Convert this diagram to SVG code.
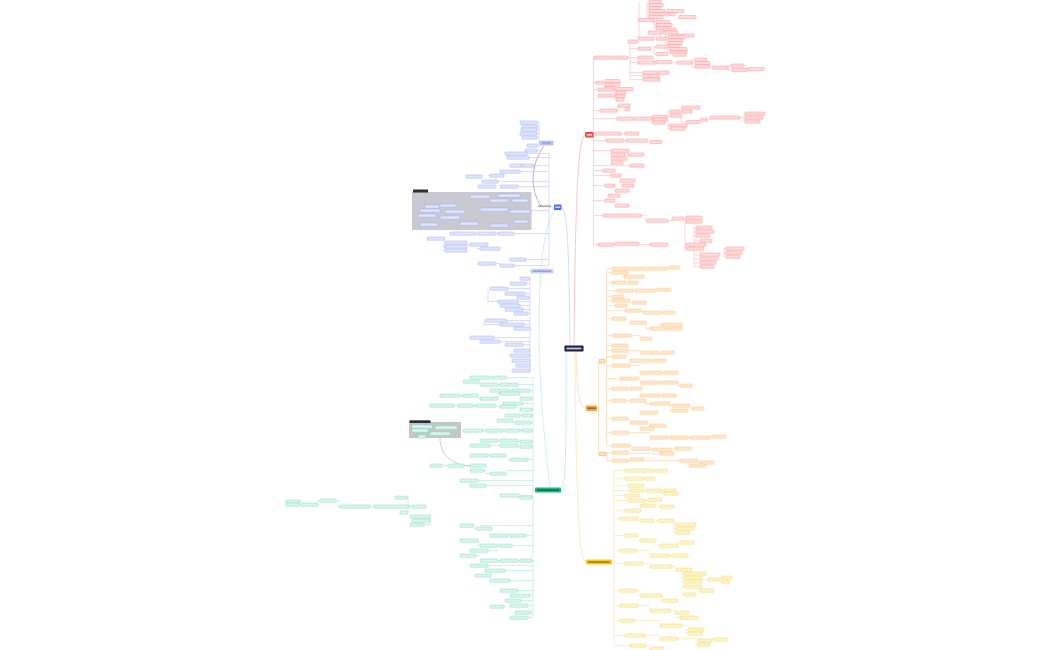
<svg xmlns="http://www.w3.org/2000/svg" width="1050" height="650" viewBox="0 0 1050 650">
<style>
rect.n{height:3.2px;rx:0.4px;ry:0.4px;stroke-width:0.45}
.r{fill:#ffdcdc;stroke:#ff8e8e}
.o{fill:#ffe8cd;stroke:#ffbb74}
.y{fill:#fff5c6;stroke:#eed468}
.g{fill:#d8f6e9;stroke:#7fdbb7}
.b{fill:#e0e6fd;stroke:#9aa9f2}
.l{fill:none;stroke-width:0.5}
.lr{stroke:#ffa6a6}.lo{stroke:#ffc990}.ly{stroke:#f3e197}.lg{stroke:#95e4c5}.lb{stroke:#adb9f3}
.main{stroke:none}
.stripe{fill:#ffffff;opacity:0.75}
</style>
<rect width="1050" height="650" fill="#ffffff"/>

<g id="connectors">
<path class="l" stroke="#ff8a8a" stroke-width="0.8" d="M574,345.5 C575,230 577,135 585,135"/>
<path class="l" stroke="#ffc48a" stroke-width="0.8" d="M576,351.5 C577,392 579,408 586,408"/>
<path class="l" stroke="#f5dc78" stroke-width="0.8" d="M575,351.5 C576,480 578,562 586,562"/>
<path class="l" stroke="#8fe3c0" stroke-width="0.8" d="M566,351.5 C566,420 567,490 561,490"/>
<path class="l" stroke="#a9b6f7" stroke-width="0.8" d="M570,345.5 C569,260 568,207 561,207"/>
<path class="l" stroke="#9fe6c8" stroke-width="0.7" d="M555,209 C545,225 539,260 539,330 S548,470 550,487.5"/>
<path class="l" stroke="#6b6b6b" stroke-width="0.7" d="M544,146 C530,165 530,190 541,206"/>
<path class="l" stroke="#9a9aa2" stroke-width="0.5" d="M440,438 C440,455 452,465 470,466"/>
<path class="l lr" d="M593.5,57.6 V245 M593.5,82.6h2.5M593.5,89.6h4.5M593.5,110.6h6.5M593.5,118.6h23.5M593.5,133.6h1.5M593.5,140.6h12.5M593.5,150.6h17.5M593.5,165.6h36.5M593.5,170.6h9.5M593.5,175.6h17.5M593.5,185.6h11.5M593.5,200.6h11.5M593.5,215.6h9.5M593.5,244.6h4.5"/>
<path class="l lr" d="M628,57.6h2 M630,41.6V79.6 M630,41.6h-2 M630,48.6h8 M630,57.6h8 M630,62.6h8 M630,72.6h13 M630,75.6h13 M630,79.6h13 M637,41.6h2 M639,2V39 M639,19.6h-1 M639,38.6h-1 M647,2V17 M647,2h2 M647,5h2 M647,8h2 M647,11h2 M647,14h2 M647,17h2 M654,21V28 M654,22h2M654,25h2M654,28h2 M661,29V36 M661,30h2 M661,33h2 M666,35V46 M666,37h2 M666,40h2 M666,43h2 M666,46h2 M654,46V54 M654,47h2 M654,54h2 M668,49V52 M668,49h2 M668,52h2 M655,62h1 M673,62h4 M692,59V67 M692,60h3 M692,63h3 M692,67h3 M728,65V70 M728,66h3 M728,70h4 M744,69h4"/>
<path class="l lr" d="M603,82.6h2 M604,81V88 M614,89.6h2 M615,89V99 M615,92.6h1 M615,95.6h1 M615,98.6h1 M617,110.6h1 M618,106V111 M634,118.6h1 M652,116V123 M652,116.6h1 M652,119.6h1 M652,122.6h1 M668,111V129 M668,111.6h2M668,115.6h2M668,125.6h2M668,128.6h2 M681,108V122 M681,108h1M681,112h1M681,122h5 M700,119.6h10 M744,113V122 M740,117.6h4 M621,133.6h4 M624,140.6h2 M641,215.6h5 M668,220.6h4 M685,218V249 M685,218h1M685,222h1M685,244h1M685,248h1 M694,227V267 M694,228h2M694,232h2M694,236h2M694,241h6M694,255h6M694,259h6M694,263h6M694,267h6 M724,248V257 M724,249h2M724,253h2M724,257h2 M614,244.6h1 M639,244.6h11"/>
<path class="l lo" d="M597,408h1.5 M598.5,361V454 M598.5,361h0.5 M598.5,454h0.5 M605,361h1.5 M606.5,268.6V445 M606.5,268.6h5.5M606.5,272.6h5.5M606.5,282.6h5.5M606.5,290.6h10.5M606.5,296.6h5.5M606.5,300.6h5.5M606.5,305.6h8.5M606.5,310.6h18.5M606.5,318.6h5.5M606.5,335.6h5.5M606.5,345.6h5.5M606.5,350.6h5.5M606.5,356.6h5.5M606.5,365.6h5.5M606.5,378.6h13.5M606.5,388.6h5.5M606.5,400.6h5.5M606.5,418.6h5.5M606.5,432.6h5.5M606.5,445.6h5.5 M606,454h1 M607,452V461 M607,452.6h5M607,460.6h5 M622,276.6h2 M640,268.6h1 M633,290.6h2 M655,290h2 M641,310.6h2 M661,312.6h2 M646,322.6V329 M646,322.6h-1 M646,328.6h4 M660,322V329 M660,324.6h2 M660,328.6h8 M632,335.6h8 M628,350.6h12 M658,352.6h2 M650,360.6h2 M630,365.6h10 M662,372.6h2 M638,378.6h2 M658,382.6h2 M678,382.6V386 M678,385.6h2 M628,388.6h2 M660,395.6h2 M626,400.6h4 M646,402V405 M646,403.6h4 M670,405V411 M670,405.6h2M670,410.6h2 M690,408.6h2 M628,418.6h2 M648,425.6h2 M628,432.6h22 M668,437.6h2 M688,437.6h2 M710,436.6h2 M630,445.6h2 M650,449.6h2 M673,448.6h2 M628,453.6h32 M628,460.6h2 M646,460.6h34 M698,462.6h2 M688,462.6V466 M688,465.6h2"/>
<path class="l ly" d="M612,562h2 M614,470.6V645 M614,470.6h11M614,478.6h11M614,485.6h14M614,490.6h16M614,495.6h11M614,500.6h14M614,510.6h11M614,518.6h6M614,535.6h11M614,550.6h6M614,563.6h11M614,590.6h6M614,605.6h6M614,620.6h6M614,635.6h11M614,645.6h16 M655,470.6h2 M643,478.6h2 M644,490.6h2 M662,490V494 M662,490.6h2 M662,493.6h2 M646,500.6h2 M638,505.6h2 M658,506.6h2 M638,520.6h2 M656,520.6h2 M674,520.6V533 M674,524.6h2M674,528.6h2M674,532.6h2 M638,540.6h2 M658,545.6h2 M678,542.6h2 M636,550.6h14 M670,555.6h2 M643,563.6h7 M672,566.6h4 M682,569V595 M682,573.6h2M682,577.6h2M682,581.6h2M682,586.6h2M682,594.6h2 M702,579.6h6 M720,577.6V582 M720,577.6h2 M720,581.6h2 M698,590.6h2 M636,590.6h4 M660,600.6h2 M638,605.6h12 M670,610.6h5 M676,612V618 M676,617.6h4 M634,620.6h26 M682,625.6h6 M686,629V634 M686,629.6h2 M686,633.6h2 M645,635.6h15 M678,638.6h20 M712,639.6h2 M696,640V645 M696,644.6h2 M646,646h4"/>
<path class="l lg" d="M535,490h-2 M533,377.6V617 M533,377.6h-27M533,384.6h-15M533,390.6h-3M533,398.6h-1M533,403.6h-10M533,409.6h-1M533,415.6h-1M533,422.6h-2M533,430.6h-1M533,441.6h-1M533,446.6h-1M533,459.6h-5M533,470.6h-27M533,480.6h-55M533,485.6h-47M533,495.6h-13M533,497.6h-1M533,525.6h-53M533,535.6h-7M533,545.6h-33M533,560.6h-1M533,565.6h-45M533,570.6h-28M533,580.6h-23M533,590.6h-15M533,595.6h-3M533,600.6h-12M533,605.6h-5M533,612.6h-2M533,617.6h-5 M490,377.6h2 M479,381.6h1 M478,381V385 M498,384.6h2 M510,390.6h2 M460,395.6h2 M478,398.6h2 M498,393V399 M498,393.6h2 M454,405.6h4 M474,405.6h2 M496,406.6h4 M520,415.6h2 M513,422.6h2 M483,430.6h3 M503,430.6h2 M520,430.6h2 M498,440.6h2 M518,441.6h2 M490,445.6h10 M518,446.6h2 M488,455.6h2 M508,459.6h2 M442,465.6h6 M464,465.6h6 M486,470V474 M486,470.6h-2 M486,473.6h4 M300,501.6h2 M300,504.6h2 M318,500V505 M318,500.6h2 M336,500.6h4 M338,501V507 M338,506.6h2 M370,506.6h4 M410,506.6h2 M407,497.6h1 M408,497V512 M408,512.6h-8 M430,513V525 M430,524.6h-6 M474,528.6h2 M508,535.6h2 M478,540.6V546 M478,545.6h2 M498,545.6h2 M488,550.6h10 M476,555.6h4 M498,560.6h2 M518,560.6h2 M488,566h2 M508,590.6h2 M504,606.6h1"/>
<path class="l lb" d="M554,207h-5 M549,153V265 M549,153.6h-22M549,157.6h-20M549,165.6h-15M549,171.6h-29M549,181.6h-51M549,186.6h-31M549,210.6h-18M549,233.6h-35M549,259.6h-23M549,265.6h-35M549,271h4 M540,143h-1 M539,122.6V151 M539,122.6h-2M539,126.6h-2M539,129.6h-2M539,133.6h-2M539,137.6h-2M539,145.6h-2M539,150.6h-2 M531,271h-1 M530,278.6V371 M530,283.6h-4M530,288.6h-22M530,293.6h-5M530,297.6h-1M530,301.6h-12M530,305.6h-10M530,309.6h-7M530,313.6h-2M530,320.6h-23M530,324.6h-6M530,337.6h-36M530,341.6h-30M530,344.6h-7 M488,175.6h2 M496,178V182 M496,181.6h2 M444,242.6V251 M444,242.6h1M444,246.6h1M444,250.6h1 M476,233.6h2 M496,233.6h2 M467,244.6h3 M477,248.6h3 M496,263.6h4 M508,259.6h2 M488,289.6V302 M488,301.6h10 M484,321V326 M484,324.6h16"/>
</g>

<g id="node-center">
<rect class="main" x="564.5" y="345.5" width="19" height="6" rx="0.8" fill="#1c1f4a"/>
<rect class="stripe" x="566.5" y="347.6" width="15" height="1.8"/>
</g>
<g id="node-red">
<rect class="main" x="585" y="132" width="8.5" height="5.5" rx="0.8" fill="#ff4545"/>
<rect class="stripe" x="586.5" y="134" width="5.5" height="1.6"/>
</g>
<g id="node-orange">
<rect class="main" x="586" y="405.5" width="11" height="5.5" rx="0.8" fill="#f7a04b"/>
<rect x="587.5" y="407.4" width="8" height="1.6" fill="#5a3a1a" opacity="0.55"/>
</g>
<g id="node-orange-a"><rect x="599" y="359.5" width="6" height="3.4" rx="0.5" fill="#fde3c5" stroke="#f7a04b" stroke-width="0.5"/></g>
<g id="node-orange-b"><rect x="599" y="452.3" width="7" height="3.4" rx="0.5" fill="#fde3c5" stroke="#f7a04b" stroke-width="0.5"/></g>
<g id="node-yellow">
<rect class="main" x="586" y="559.5" width="26" height="5" rx="0.8" fill="#f6c915"/>
<rect x="588" y="561.3" width="22" height="1.5" fill="#4a3a00" opacity="0.55"/>
</g>
<g id="node-green">
<rect class="main" x="535" y="487.5" width="26" height="5" rx="0.8" fill="#17b883"/>
<rect x="537" y="489.3" width="22" height="1.5" fill="#06331f" opacity="0.6"/>
</g>
<g id="node-blue">
<rect class="main" x="554" y="204.5" width="7.5" height="5.5" rx="0.8" fill="#4b6ef5"/>
<rect class="stripe" x="555.3" y="206.5" width="5" height="1.5"/>
</g>
<g id="node-blue-a"><rect x="540" y="141.2" width="13" height="3.6" rx="0.5" fill="#dfe5ff" stroke="#4b6ef5" stroke-width="0.5"/><rect x="541.5" y="142.4" width="10" height="1.2" fill="#3a4aa0" opacity="0.6"/></g>
<g id="node-blue-b"><rect x="531" y="269.3" width="22" height="3.6" rx="0.5" fill="#dfe5ff" stroke="#8fa2f5" stroke-width="0.5"/><rect x="532.5" y="270.5" width="19" height="1.2" fill="#3a4aa0" opacity="0.6"/></g>
<g id="label-relation"><rect x="538" y="205.3" width="13" height="1.8" fill="#9a9aa2" opacity="0.8"/></g>

<g id="frame-blue">
<rect x="412" y="192" width="119.5" height="38" fill="#c9c9d1"/>
<rect x="413" y="189.5" width="15" height="3" fill="#2b2b3a"/>
</g>
<g id="frame-green">
<rect x="409" y="422" width="52" height="16" fill="#c4c6cc"/>
<rect x="409.5" y="420.3" width="21" height="2.7" fill="#2b2b3a"/>
</g>

<g id="nodes-red">
<rect class="n r" x="649" y="0.5" width="12"/><rect class="n r" x="649" y="3.5" width="14"/><rect class="n r" x="649" y="6.5" width="11"/>
<rect class="n r" x="649" y="9.5" width="16"/><rect class="n r" x="667" y="9.5" width="17"/><rect class="n r" x="649" y="12.5" width="18"/><rect class="n r" x="668" y="12.5" width="7"/>
<rect class="n r" x="649" y="15.5" width="14"/><rect class="n r" x="679" y="15.5" width="17"/><rect class="n r" x="638" y="18.5" width="16"/>
<rect class="n r" x="656" y="20.5" width="14"/><rect class="n r" x="656" y="23.5" width="16"/><rect class="n r" x="656" y="26.5" width="12"/>
<rect class="n r" x="648" y="31" width="13"/><rect class="n r" x="663" y="28" width="13"/><rect class="n r" x="663" y="31" width="15"/><rect class="n r" x="672" y="34" width="22"/>
<rect class="n r" x="638" y="37" width="16"/><rect class="n r" x="656" y="37" width="10"/><rect class="n r" x="668" y="35.5" width="17"/><rect class="n r" x="668" y="38.5" width="15"/><rect class="n r" x="668" y="41.5" width="14"/><rect class="n r" x="668" y="44.5" width="12"/>
<rect class="n r" x="628" y="40" width="9"/><rect class="n r" x="638" y="47" width="13"/><rect class="n r" x="656" y="45" width="12"/><rect class="n r" x="670" y="47.5" width="17"/><rect class="n r" x="670" y="50.5" width="17"/>
<rect class="n r" x="656" y="52.5" width="12"/><rect class="n r" x="673" y="53" width="13"/><rect class="n r" x="638" y="56" width="15"/>
<rect class="n r" x="594" y="56" width="16"/><rect class="n r" x="611" y="56" width="17"/>
<rect class="n r" x="638" y="61" width="17"/><rect class="n r" x="656" y="60.5" width="16"/><rect class="n r" x="677" y="61" width="15"/><rect class="n r" x="695" y="58" width="12"/><rect class="n r" x="695" y="61.5" width="15"/><rect class="n r" x="695" y="65" width="15"/><rect class="n r" x="712" y="66" width="5"/><rect class="n r" x="718" y="66" width="10"/><rect class="n r" x="731" y="64" width="13"/><rect class="n r" x="732" y="68.5" width="15"/><rect class="n r" x="748" y="67.5" width="16"/>
<rect class="n r" x="643" y="71" width="14"/><rect class="n r" x="658" y="71" width="11"/><rect class="n r" x="643" y="74.5" width="16"/><rect class="n r" x="643" y="78" width="17"/>
<rect class="n r" x="596" y="81" width="7"/><rect class="n r" x="605" y="79.5" width="15"/><rect class="n r" x="605" y="83" width="15"/><rect class="n r" x="605" y="86.5" width="10"/>
<rect class="n r" x="598" y="88" width="16"/><rect class="n r" x="616" y="87.5" width="17"/><rect class="n r" x="598" y="94" width="17"/><rect class="n r" x="616" y="91" width="10"/><rect class="n r" x="616" y="94.5" width="9"/><rect class="n r" x="616" y="98" width="8"/>
<rect class="n r" x="600" y="109" width="17"/><rect class="n r" x="618" y="104" width="12"/><rect class="n r" x="625" y="107.5" width="5"/>
<rect class="n r" x="617" y="117" width="17"/><rect class="n r" x="635" y="117" width="17"/><rect class="n r" x="653" y="115" width="14"/><rect class="n r" x="653" y="118" width="14"/><rect class="n r" x="653" y="121" width="12"/>
<rect class="n r" x="670" y="110" width="10"/><rect class="n r" x="670" y="114" width="12"/><rect class="n r" x="682" y="106" width="18"/><rect class="n r" x="682" y="110" width="10"/><rect class="n r" x="670" y="124" width="17"/><rect class="n r" x="670" y="127" width="15"/><rect class="n r" x="686" y="120.5" width="14"/><rect class="n r" x="701" y="118" width="6"/><rect class="n r" x="710" y="116" width="30"/><rect class="n r" x="745" y="112" width="20"/><rect class="n r" x="745" y="116" width="18"/><rect class="n r" x="745" y="120" width="15"/>
<rect class="n r" x="595" y="132" width="26"/><rect class="n r" x="625" y="132" width="14"/>
<rect class="n r" x="606" y="139" width="18"/><rect class="n r" x="626" y="139" width="22"/><rect class="n r" x="650" y="140.5" width="12"/>
<rect class="n r" x="611" y="149" width="18"/><rect class="n r" x="611" y="153" width="14"/><rect class="n r" x="611" y="157" width="16"/><rect class="n r" x="611" y="161" width="12"/><rect class="n r" x="630" y="164" width="14"/><rect class="n r" x="628" y="153" width="16"/>
<rect class="n r" x="603" y="169" width="12"/><rect class="n r" x="611" y="174" width="10"/><rect class="n r" x="620" y="179" width="15"/><rect class="n r" x="605" y="184" width="10"/><rect class="n r" x="615" y="189" width="14"/><rect class="n r" x="608" y="194" width="12"/><rect class="n r" x="605" y="199" width="10"/><rect class="n r" x="615" y="204" width="14"/><rect class="n r" x="622" y="184" width="12"/>
<rect class="n r" x="603" y="214" width="38"/><rect class="n r" x="646" y="219" width="22"/><rect class="n r" x="672" y="217" width="12"/>
<rect class="n r" x="686" y="216" width="16"/><rect class="n r" x="686" y="220" width="16"/><rect class="n r" x="696" y="226" width="16"/><rect class="n r" x="696" y="230" width="18"/><rect class="n r" x="696" y="234" width="14"/><rect class="n r" x="700" y="239" width="12"/><rect class="n r" x="686" y="243" width="20"/><rect class="n r" x="686" y="247" width="18"/>
<rect class="n r" x="700" y="253" width="20"/><rect class="n r" x="700" y="257" width="18"/><rect class="n r" x="700" y="261" width="16"/><rect class="n r" x="700" y="265" width="14"/><rect class="n r" x="726" y="247" width="18"/><rect class="n r" x="726" y="251" width="16"/><rect class="n r" x="726" y="255" width="14"/>
<rect class="n r" x="598" y="243" width="16"/><rect class="n r" x="615" y="242" width="24"/><rect class="n r" x="650" y="243" width="18"/>
</g>

<g id="nodes-orange">
<rect class="n o" x="612" y="267" width="28"/><rect class="n o" x="641" y="267" width="26"/><rect class="n o" x="668" y="266" width="12"/>
<rect class="n o" x="612" y="271" width="16"/><rect class="n o" x="624" y="275" width="20"/><rect class="n o" x="612" y="281" width="14"/><rect class="n o" x="628" y="281" width="10"/>
<rect class="n o" x="617" y="289" width="16"/><rect class="n o" x="635" y="289" width="20"/><rect class="n o" x="657" y="288" width="14"/><rect class="n o" x="612" y="295" width="12"/>
<rect class="n o" x="612" y="299" width="18"/><rect class="n o" x="632" y="301" width="14"/><rect class="n o" x="615" y="304" width="12"/>
<rect class="n o" x="625" y="309" width="16"/><rect class="n o" x="643" y="311" width="18"/><rect class="n o" x="663" y="311" width="12"/><rect class="n o" x="612" y="317" width="14"/>
<rect class="n o" x="630" y="321" width="16"/><rect class="n o" x="662" y="323" width="20"/><rect class="n o" x="650" y="327" width="16"/><rect class="n o" x="668" y="327" width="14"/>
<rect class="n o" x="612" y="334" width="20"/><rect class="n o" x="640" y="337" width="12"/><rect class="n o" x="612" y="344" width="16"/>
<rect class="n o" x="612" y="349" width="16"/><rect class="n o" x="640" y="351" width="18"/><rect class="n o" x="660" y="351" width="14"/><rect class="n o" x="612" y="355" width="14"/>
<rect class="n o" x="630" y="359" width="20"/><rect class="n o" x="652" y="359" width="14"/><rect class="n o" x="612" y="364" width="18"/>
<rect class="n o" x="640" y="371" width="22"/><rect class="n o" x="664" y="371" width="14"/><rect class="n o" x="620" y="377" width="18"/><rect class="n o" x="640" y="381" width="18"/><rect class="n o" x="660" y="381" width="18"/><rect class="n o" x="680" y="384" width="12"/>
<rect class="n o" x="612" y="387" width="16"/><rect class="n o" x="630" y="387" width="12"/><rect class="n o" x="640" y="394" width="20"/><rect class="n o" x="662" y="394" width="14"/>
<rect class="n o" x="612" y="399" width="14"/><rect class="n o" x="630" y="399" width="16"/><rect class="n o" x="650" y="402" width="20"/><rect class="n o" x="672" y="404" width="18"/><rect class="n o" x="692" y="407" width="12"/><rect class="n o" x="672" y="409" width="16"/>
<rect class="n o" x="640" y="411" width="18"/><rect class="n o" x="612" y="417" width="16"/><rect class="n o" x="630" y="421" width="18"/><rect class="n o" x="650" y="424" width="16"/>
<rect class="n o" x="640" y="427" width="14"/><rect class="n o" x="612" y="431" width="16"/>
<rect class="n o" x="650" y="436" width="18"/><rect class="n o" x="670" y="436" width="18"/><rect class="n o" x="690" y="436" width="20"/><rect class="n o" x="712" y="435" width="14"/>
<rect class="n o" x="612" y="444" width="18"/><rect class="n o" x="632" y="447" width="18"/><rect class="n o" x="652" y="448" width="20"/><rect class="n o" x="675" y="447" width="16"/>
<rect class="n o" x="612" y="451" width="16"/><rect class="n o" x="660" y="452" width="14"/>
<rect class="n o" x="612" y="459" width="16"/><rect class="n o" x="630" y="458" width="14"/><rect class="n o" x="680" y="459" width="18"/><rect class="n o" x="700" y="461" width="14"/><rect class="n o" x="690" y="464" width="16"/>
</g>

<g id="nodes-yellow">
<rect class="n y" x="625" y="469" width="30"/><rect class="n y" x="657" y="469" width="10"/><rect class="n y" x="625" y="477" width="18"/><rect class="n y" x="645" y="477" width="10"/>
<rect class="n y" x="628" y="484" width="16"/><rect class="n y" x="630" y="489" width="14"/><rect class="n y" x="646" y="489" width="16"/><rect class="n y" x="664" y="489" width="12"/><rect class="n y" x="664" y="492" width="14"/>
<rect class="n y" x="625" y="494" width="14"/><rect class="n y" x="628" y="499" width="18"/><rect class="n y" x="648" y="498" width="14"/><rect class="n y" x="640" y="504" width="16"/><rect class="n y" x="660" y="505" width="14"/>
<rect class="n y" x="625" y="509" width="16"/><rect class="n y" x="620" y="517" width="18"/><rect class="n y" x="640" y="519" width="14"/><rect class="n y" x="658" y="519" width="16"/>
<rect class="n y" x="676" y="523" width="20"/><rect class="n y" x="676" y="527" width="18"/><rect class="n y" x="676" y="531" width="14"/>
<rect class="n y" x="625" y="534" width="13"/><rect class="n y" x="640" y="539" width="16"/><rect class="n y" x="660" y="544" width="18"/><rect class="n y" x="680" y="541" width="14"/>
<rect class="n y" x="620" y="549" width="16"/><rect class="n y" x="650" y="554" width="20"/><rect class="n y" x="672" y="554" width="16"/><rect class="n y" x="625" y="562" width="18"/>
<rect class="n y" x="650" y="565" width="22"/><rect class="n y" x="676" y="568" width="16"/><rect class="n y" x="684" y="572" width="22"/><rect class="n y" x="684" y="576" width="18"/><rect class="n y" x="684" y="580" width="18"/>
<rect class="n y" x="708" y="578" width="12"/><rect class="n y" x="722" y="576" width="10"/><rect class="n y" x="722" y="580" width="8"/>
<rect class="n y" x="684" y="585" width="18"/><rect class="n y" x="700" y="589" width="14"/><rect class="n y" x="684" y="593" width="12"/>
<rect class="n y" x="620" y="589" width="16"/><rect class="n y" x="640" y="594" width="22"/><rect class="n y" x="662" y="599" width="16"/><rect class="n y" x="620" y="604" width="18"/>
<rect class="n y" x="650" y="609" width="20"/><rect class="n y" x="675" y="611" width="14"/><rect class="n y" x="680" y="616" width="18"/>
<rect class="n y" x="620" y="619" width="14"/><rect class="n y" x="660" y="624" width="22"/><rect class="n y" x="688" y="628" width="16"/><rect class="n y" x="688" y="632" width="14"/>
<rect class="n y" x="625" y="634" width="20"/><rect class="n y" x="660" y="637" width="18"/><rect class="n y" x="698" y="639" width="14"/><rect class="n y" x="714" y="638" width="14"/><rect class="n y" x="698" y="643" width="12"/>
<rect class="n y" x="630" y="644" width="16"/><rect class="n y" x="650" y="647" width="14"/>
</g>

<g id="nodes-green">
<rect class="n g" x="470" y="376" width="20"/><rect class="n g" x="492" y="376" width="14"/><rect class="n g" x="463" y="380" width="16"/><rect class="n g" x="480" y="383" width="18"/><rect class="n g" x="500" y="383" width="18"/>
<rect class="n g" x="490" y="389" width="20"/><rect class="n g" x="512" y="389" width="18"/>
<rect class="n g" x="440" y="394" width="20"/><rect class="n g" x="462" y="394" width="16"/><rect class="n g" x="480" y="397" width="18"/><rect class="n g" x="500" y="392" width="20"/><rect class="n g" x="520" y="397" width="12"/>
<rect class="n g" x="503" y="402" width="20"/><rect class="n g" x="430" y="404" width="24"/><rect class="n g" x="458" y="404" width="16"/><rect class="n g" x="476" y="404" width="20"/><rect class="n g" x="500" y="405" width="16"/><rect class="n g" x="520" y="408" width="12"/>
<rect class="n g" x="505" y="414" width="15"/><rect class="n g" x="522" y="414" width="10"/><rect class="n g" x="497" y="419" width="16"/><rect class="n g" x="515" y="421" width="16"/>
<rect class="n g" x="463" y="429" width="20"/><rect class="n g" x="486" y="429" width="17"/><rect class="n g" x="505" y="429" width="15"/><rect class="n g" x="522" y="429" width="10"/>
<rect class="n g" x="480" y="439" width="18"/><rect class="n g" x="500" y="439" width="18"/><rect class="n g" x="520" y="440" width="12"/><rect class="n g" x="470" y="444" width="20"/><rect class="n g" x="500" y="444" width="18"/><rect class="n g" x="520" y="445" width="12"/>
<rect class="n g" x="470" y="454" width="18"/><rect class="n g" x="490" y="454" width="16"/><rect class="n g" x="510" y="458" width="18"/>
<rect class="n g" x="430" y="464" width="12"/><rect class="n g" x="448" y="464" width="16"/><rect class="n g" x="470" y="464" width="16"/><rect class="n g" x="470" y="469" width="14"/><rect class="n g" x="490" y="472" width="16"/>
<rect class="n g" x="460" y="479" width="18"/><rect class="n g" x="470" y="484" width="16"/><rect class="n g" x="500" y="494" width="20"/><rect class="n g" x="520" y="496" width="12"/>
<rect class="n g" x="286" y="500" width="14"/><rect class="n g" x="286" y="503" width="14"/><rect class="n g" x="320" y="499" width="16"/><rect class="n g" x="302" y="503" width="16"/><rect class="n g" x="340" y="505" width="30"/><rect class="n g" x="374" y="505" width="36"/><rect class="n g" x="395" y="496" width="12"/><rect class="n g" x="412" y="505" width="14"/>
<rect class="n g" x="400" y="511" width="8"/><rect class="n g" x="410" y="515" width="20"/><rect class="n g" x="412" y="519" width="18"/><rect class="n g" x="410" y="523" width="14"/>
<rect class="n g" x="460" y="524" width="14"/><rect class="n g" x="476" y="527" width="16"/><rect class="n g" x="490" y="534" width="18"/><rect class="n g" x="510" y="534" width="16"/>
<rect class="n g" x="460" y="539" width="18"/><rect class="n g" x="480" y="544" width="18"/><rect class="n g" x="500" y="544" width="12"/><rect class="n g" x="470" y="549" width="18"/><rect class="n g" x="460" y="554" width="16"/>
<rect class="n g" x="480" y="559" width="18"/><rect class="n g" x="500" y="559" width="18"/><rect class="n g" x="520" y="559" width="12"/><rect class="n g" x="470" y="564" width="18"/><rect class="n g" x="485" y="569" width="20"/>
<rect class="n g" x="475" y="574" width="16"/><rect class="n g" x="490" y="579" width="20"/><rect class="n g" x="500" y="589" width="18"/><rect class="n g" x="510" y="594" width="20"/>
<rect class="n g" x="505" y="599" width="16"/><rect class="n g" x="510" y="604" width="18"/><rect class="n g" x="490" y="605" width="14"/><rect class="n g" x="515" y="611" width="16"/><rect class="n g" x="510" y="616" width="18"/>
<rect class="n g" x="412" y="425" width="20"/><rect class="n g" x="435" y="426" width="22"/><rect class="n g" x="412" y="429" width="16"/><rect class="n g" x="430" y="432" width="20"/><rect class="n g" x="418" y="435" width="8"/>
</g>

<g id="nodes-blue">
<rect class="n b" x="520" y="121" width="17"/><rect class="n b" x="522" y="125" width="15"/><rect class="n b" x="521" y="128" width="16"/><rect class="n b" x="520" y="132" width="17"/><rect class="n b" x="522" y="136" width="15"/><rect class="n b" x="527" y="144" width="10"/><rect class="n b" x="525" y="149" width="12"/>
<rect class="n b" x="505" y="152" width="22"/><rect class="n b" x="507" y="156" width="22"/><rect class="n b" x="510" y="164" width="12"/><rect class="n b" x="522" y="164" width="12"/>
<rect class="n b" x="500" y="170" width="20"/><rect class="n b" x="490" y="174" width="14"/><rect class="n b" x="466" y="175" width="16"/><rect class="n b" x="482" y="180" width="16"/><rect class="n b" x="500" y="185" width="18"/><rect class="n b" x="478" y="185" width="18"/>
<rect class="n b" x="470" y="195" width="20"/><rect class="n b" x="498" y="194" width="22"/><rect class="n b" x="490" y="199" width="18"/><rect class="n b" x="512" y="199" width="16"/>
<rect class="n b" x="425" y="205" width="14"/><rect class="n b" x="440" y="204" width="16"/><rect class="n b" x="420" y="209" width="20"/><rect class="n b" x="445" y="210" width="20"/><rect class="n b" x="418" y="214" width="18"/><rect class="n b" x="440" y="216" width="20"/>
<rect class="n b" x="480" y="208" width="28"/><rect class="n b" x="510" y="210" width="20"/><rect class="n b" x="514" y="220" width="14"/><rect class="n b" x="460" y="222" width="18"/><rect class="n b" x="490" y="224" width="18"/><rect class="n b" x="420" y="223" width="18"/>
<rect class="n b" x="450" y="232" width="26"/><rect class="n b" x="478" y="232" width="18"/><rect class="n b" x="498" y="232" width="16"/>
<rect class="n b" x="427" y="237" width="18"/><rect class="n b" x="445" y="241" width="22"/><rect class="n b" x="445" y="245" width="22"/><rect class="n b" x="445" y="249" width="22"/><rect class="n b" x="470" y="243" width="18"/><rect class="n b" x="480" y="247" width="20"/>
<rect class="n b" x="478" y="262" width="18"/><rect class="n b" x="500" y="264" width="14"/><rect class="n b" x="510" y="258" width="16"/>
<rect class="n b" x="520" y="277" width="10"/><rect class="n b" x="510" y="282" width="16"/><rect class="n b" x="490" y="287" width="18"/><rect class="n b" x="505" y="292" width="20"/><rect class="n b" x="517" y="296" width="12"/>
<rect class="n b" x="498" y="300" width="20"/><rect class="n b" x="500" y="304" width="20"/><rect class="n b" x="505" y="308" width="18"/><rect class="n b" x="514" y="312" width="14"/>
<rect class="n b" x="485" y="319" width="22"/><rect class="n b" x="500" y="323" width="24"/><rect class="n b" x="514" y="327" width="16"/><rect class="n b" x="470" y="336" width="24"/><rect class="n b" x="480" y="340" width="20"/>
<rect class="n b" x="505" y="343" width="18"/><rect class="n b" x="514" y="349" width="16"/><rect class="n b" x="510" y="354" width="20"/><rect class="n b" x="512" y="359" width="18"/><rect class="n b" x="516" y="364" width="14"/><rect class="n b" x="512" y="369" width="18"/>
</g>
</svg>
